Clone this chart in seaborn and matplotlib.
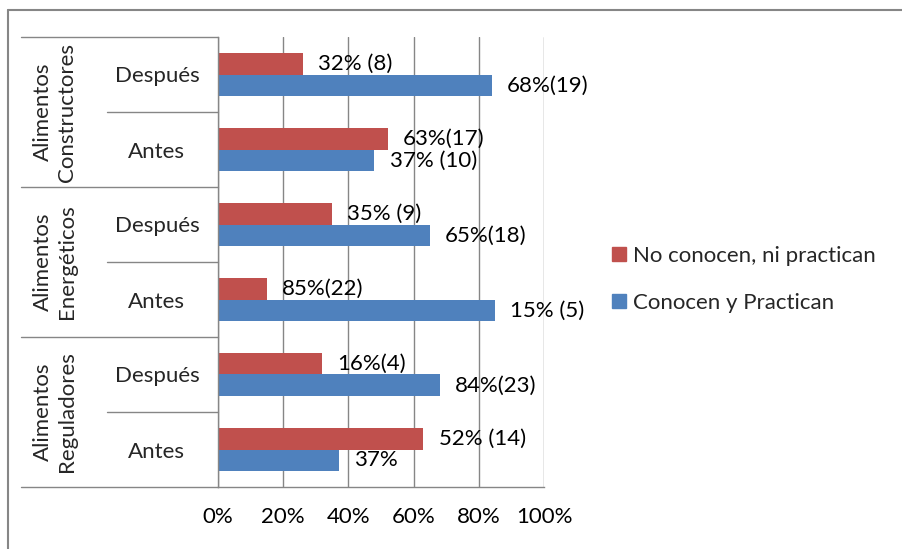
import matplotlib
matplotlib.use("Agg")
import matplotlib.pyplot as plt
import matplotlib.transforms as mtransforms
from matplotlib.lines import Line2D
import pandas as pd
import seaborn as sns

# Food groups (outer level) and moments (inner level), top to bottom
groups = ["Alimentos\nConstructores", "Alimentos\nEnergéticos", "Alimentos\nReguladores"]
moments = ["Después", "Antes"]

series = ["No conocen, ni practican", "Conocen y Practican"]
colors = ["#C0504D", "#4F81BD"]

# Bar lengths (%) per row, rows ordered top to bottom
no_conocen = [26, 52, 35, 15, 32, 63]
conocen = [84, 48, 65, 85, 68, 37]

# Data label texts per row
no_conocen_labels = ["32% (8)", "63%(17)", "35% (9)", "85%(22)", "16%(4)", "52% (14)"]
conocen_labels = ["68%(19)", "37% (10)", "65%(18)", "15% (5)", "84%(23)", "37%"]

x_ticks = [0, 20, 40, 60, 80, 100]
x_tick_labels = ["0%", "20%", "40%", "60%", "80%", "100%"]

rows = [f"{g} | {m}" for g in groups for m in moments]
df = pd.DataFrame({
    "fila": rows * 2,
    "serie": [series[0]] * len(rows) + [series[1]] * len(rows),
    "valor": no_conocen + conocen,
})

sns.set_style("white")
plt.rcParams["font.family"] = ["Lato", "DejaVu Sans"]
FS = 16
GREY = "#868686"

fig = plt.figure(figsize=(9.02, 5.49), dpi=100)
W, H = 902, 549
ax = fig.add_axes([218 / W, 1 - 487 / H, (544 - 218) / W, (487 - 37) / H])

sns.barplot(data=df, y="fila", x="valor", hue="serie", order=rows,
            hue_order=series, palette=colors, orient="h", width=0.58,
            saturation=1, ax=ax, legend=False, edgecolor="none")

# Data labels
for container, labels in zip(ax.containers, [no_conocen_labels, conocen_labels]):
    ax.bar_label(container, labels=labels, padding=11, fontsize=FS, color="black")

ax.set_xlim(0, 100)
ax.set_ylim(len(rows) - 0.5, -0.5)
ax.set_xticks(x_ticks)
ax.set_xticklabels(x_tick_labels, fontsize=FS)
ax.xaxis.grid(True, color=GREY, linewidth=1.0)
ax.set_axisbelow(True)
ax.set_xlabel("")
ax.set_ylabel("")

for side in ["top", "right"]:
    ax.spines[side].set_visible(False)
for side in ["left", "bottom"]:
    ax.spines[side].set_color(GREY)
    ax.spines[side].set_linewidth(1.0)

ax.tick_params(axis="x", length=6.5, width=1.0, color=GREY, pad=8, labelcolor="black")

# Inner category labels
ax.set_yticks(range(len(rows)))
ax.set_yticklabels([m for g in groups for m in moments], fontsize=FS)
ax.tick_params(axis="y", length=0, pad=44)
for lab in ax.get_yticklabels():
    lab.set_horizontalalignment("center")

# Outer category labels and separators
bt = mtransforms.blended_transform_factory(ax.transAxes, ax.transData)
outer_x = (21 - 218) / (544 - 218)
inner_x = (107 - 218) / (544 - 218)
label_x = (55 - 218) / (544 - 218)
for i, g in enumerate(groups):
    ax.text(label_x, 2 * i + 0.5, g, transform=bt, rotation=90, ha="center",
            va="center", fontsize=FS, multialignment="center", linespacing=1.3)
for yb in [-0.5, 1.5, 3.5, 5.5]:
    ax.plot([outer_x, 0], [yb, yb], transform=bt, color=GREY, lw=1.0, clip_on=False)
for yb in [0.5, 2.5, 4.5]:
    ax.plot([inner_x, 0], [yb, yb], transform=bt, color=GREY, lw=1.0, clip_on=False)

# Legend
handles = [plt.Rectangle((0, 0), 1, 1, color=c) for c in colors]
fig.legend(handles, series, loc="upper left", bbox_to_anchor=(612 / W, 1 - 246 / H),
           frameon=False, fontsize=FS, handlelength=0.63, handleheight=0.63,
           handletextpad=0.3, labelspacing=1.2, borderpad=0, borderaxespad=0)

# Chart border
fig.add_artist(Line2D([8 / W, 8 / W], [0, 1 - 10 / H], transform=fig.transFigure,
                      color=GREY, lw=1.5))
fig.add_artist(Line2D([8 / W, 1], [1 - 10 / H, 1 - 10 / H], transform=fig.transFigure,
                      color=GREY, lw=1.5))

fig.savefig("out.png", dpi=100)
